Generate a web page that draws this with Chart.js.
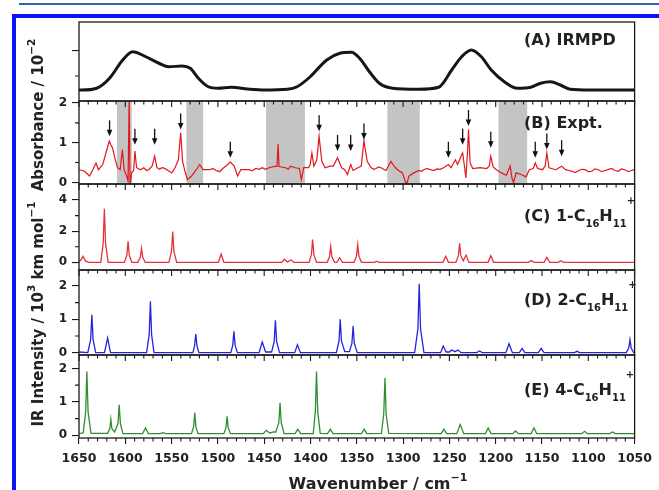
<!DOCTYPE html>
<html>
<head>
<meta charset="utf-8">
<script src="https://cdn.jsdelivr.net/npm/chart.js@4.4.1/dist/chart.umd.min.js"></script>
<style>
  html, body { margin: 0; padding: 0; background: #fff; }
  #wrap { position: relative; width: 659px; height: 490px; overflow: hidden; background: #fff; }
  .rule { position: absolute; left: 19px; top: 3px; width: 640px; height: 2px; background: #2a65b0; }
  .frame { position: absolute; left: 12px; top: 14px; width: 700px; height: 520px;
           border-left: 4.5px solid #0a14f2; border-top: 4.5px solid #0a14f2; }
  canvas { position: absolute; left: 0; top: 0; }
</style>
</head>
<body>
<div id="wrap">
  <div class="rule"></div>
  <div class="frame"></div>
  <canvas id="chart" width="659" height="490"></canvas>
</div>
<script>
// ── data (wavenumber / cm-1, intensity) ──────────────────────────────
const xTicks = [1650, 1600, 1550, 1500, 1450, 1400, 1350, 1300, 1250, 1200, 1150, 1100, 1050];
const xMinorStep = 10;

// (A) IRMPD, arbitrary units
const specA = [[1650,0.44],[1647,0.44],[1631,0.51],[1617,0.91],[1602.8,1.64],[1592,1.97],[1577.8,1.77],
  [1563.7,1.51],[1553,1.37],[1538.8,1.4],[1529.9,1.31],[1521,0.91],[1510.4,0.57],[1499.7,0.51],
  [1485.6,0.55],[1467.8,0.48],[1450,0.44],[1425,0.47],[1414.5,0.57],[1400.3,0.97],[1382.5,1.64],
  [1368.3,1.91],[1355.8,1.95],[1347,1.71],[1336.4,1.17],[1325.7,0.71],[1311.4,0.51],[1283,0.47],
  [1261.7,0.55],[1247.5,1.24],[1236.8,1.77],[1226.2,2.04],[1215.5,1.77],[1204.8,1.24],[1190.7,0.77],
  [1176.5,0.51],[1162.2,0.55],[1151.6,0.71],[1140.9,0.77],[1130.2,0.64],[1119.6,0.47],[1098.3,0.44],[1050,0.44]];

// (B) experiment, absorbance / 10^-2
const specB = [[1650,0.32],[1644,0.28],[1638.6,0.16],[1635.1,0.32],[1631.6,0.49],[1629,0.32],[1624.4,0.45],
  [1620.9,0.74],[1617.3,1.04],[1615.6,0.95],[1613.8,0.87],[1611.3,0.62],[1608.4,0.37],[1605.6,0.32],
  [1603.1,0.83],[1601.3,0.32],[1598.5,0.16],[1597,0.03],[1595.8,2.2],[1595.4,2.2],[1594.9,-0.1],
  [1593.2,0.24],[1591,0.3],[1589.6,0.79],[1587.8,0.37],[1583.6,0.32],[1580,0.37],[1577,0.3],[1574.7,0.32],
  [1571.1,0.41],[1568.3,0.66],[1565.8,0.37],[1563,0.33],[1560.5,0.37],[1558,0.36],[1555.1,0.32],[1549.8,0.24],[1546.3,0.37],
  [1542.7,0.57],[1540.2,1.25],[1538.1,0.53],[1535.6,0.28],[1532.8,0.07],[1528.5,0.16],[1523.2,0.32],
  [1519.7,0.45],[1516,0.32],[1509,0.32],[1505.5,0.35],[1501.9,0.3],[1498,0.27],[1494.7,0.35],[1489.4,0.45],[1486.6,0.51],
  [1482.4,0.41],[1478.8,0.16],[1475.2,0.32],[1466.4,0.32],[1463,0.29],[1459.2,0.35],[1455.5,0.33],[1452.1,0.37],
  [1448.5,0.33],[1444.6,0.37],
  [1437.6,0.41],[1436.2,0.4],[1435,0.97],[1434,0.4],[1426.9,0.37],[1424,0.33],[1421.6,0.41],[1416.3,0.37],
  [1412,0.35],[1409.9,0.07],[1407.3,0.37],[1402,0.37],[1400.3,0.45],[1398.5,0.74],[1396.4,0.41],
  [1393.2,0.57],[1390.7,1.16],[1387.8,0.53],[1384.3,0.37],[1378.9,0.41],[1375.4,0.41],[1370.8,0.62],
  [1366.5,0.37],[1363,0.32],[1360.1,0.2],[1356.6,0.45],[1354,0.3],[1348.7,0.37],[1345.2,0.41],
  [1342.3,1.05],[1338.8,0.53],[1334.5,0.37],[1331.5,0.33],[1329.2,0.35],[1326.5,0.39],[1323.9,0.37],[1321,0.33],
  [1318.5,0.3],[1313.2,0.53],
  [1309.7,0.41],[1306.1,0.32],[1300.8,0.24],[1298.3,0.07],[1296.2,-0.05],[1293.7,0.16],[1288.4,0.24],
  [1283,0.3],[1280,0.28],[1277.7,0.32],[1274,0.35],[1270.6,0.32],[1267,0.3],[1263.4,0.34],[1260,0.33],
  [1256.4,0.37],[1251.1,0.45],[1248.2,0.37],
  [1243.6,0.57],[1241.1,0.45],[1237.6,0.65],[1235.7,0.74],[1234,0.45],[1232.2,0.11],[1230.4,0.79],
  [1229.4,1.33],[1227.6,0.49],[1224.8,0.35],[1217,0.37],[1209.8,0.35],[1207,0.41],[1205.3,0.66],
  [1202.8,0.39],[1199.2,0.32],[1193.9,0.24],[1188.6,0.18],[1184.3,0.41],[1182.5,0.11],[1180.7,0],
  [1177.9,0.24],[1172.5,0.2],[1167.2,0.14],[1163.7,0.32],[1159.4,0.35],[1157.3,0.49],[1154.7,0.35],
  [1149.4,0.32],[1146.6,0.41],[1144.8,0.74],[1142.4,0.37],[1135.2,0.32],[1128.8,0.41],[1124.6,0.32],
  [1121,0.3],[1117.4,0.28],[1114,0.25],[1110.4,0.3],[1107,0.33],[1103.3,0.32],[1100,0.27],[1096.1,0.28],
  [1093,0.34],[1089.1,0.32],[1085.5,0.27],[1081.9,0.3],[1078,0.33],[1074.8,0.35],[1071,0.3],
  [1067.8,0.28],[1064,0.34],[1060.6,0.32],[1057,0.27],[1053.5,0.3],[1050,0.32]];

// (C) 1-C16H11+, 10^3 km/mol
const specC = [[1650,0.05],[1648.5,0.12],[1645.7,0.39],[1643,0.08],[1639,0],
  [1626.5,0],[1623.9,1.2],[1622.6,3.44],[1621.3,1.2],[1618.5,0],
  [1601,0],[1598.3,0.47],[1597,1.35],[1595.7,0.47],[1593,0],
  [1586.5,0],[1583.8,0.32],[1582.5,0.9],[1581.2,0.32],[1578.5,0],
  [1553,0],[1550.1,0.69],[1548.8,1.98],[1547.5,0.69],[1544.5,0],
  [1499.5,0],[1496.5,0.53],[1493.5,0],
  [1431,0],[1428.3,0.2],[1425,0.03],[1420.9,0.15],[1418,0],
  [1401.5,0],[1399,0.51],[1397.7,1.46],[1396.4,0.51],[1393.5,0],
  [1382,0],[1379.5,0.36],[1378.2,1.03],[1376.9,0.36],[1374,0],
  [1371.5,0],[1368.6,0.3],[1365.5,0],
  [1353,0],[1350.3,0.4],[1349,1.14],[1347.7,0.4],[1345,0],
  [1331,0],[1328.5,0.08],[1326,0],
  [1257,0],[1253.9,0.39],[1251,0],
  [1243,0],[1240.3,0.43],[1239,1.22],[1237.7,0.43],[1235,0.1],[1232,0.47],[1229,0],
  [1208.3,0],[1205.3,0.43],[1202.3,0],
  [1164.5,0],[1161.6,0.12],[1158.5,0],
  [1147.8,0],[1144.8,0.32],[1141.8,0],
  [1132.5,0],[1129.6,0.1],[1126.7,0],[1050,0]];

// (D) 2-C16H11+
const specD = [[1650,0.02],[1640.5,0],[1637.4,0.4],[1636.1,1.14],[1634.8,0.4],[1632,0],
  [1622.5,0],[1619.1,0.44],[1616,0],
  [1577,0],[1574.2,0.54],[1572.9,1.54],[1571.6,0.54],[1569,0],
  [1527,0],[1525.2,0.2],[1523.9,0.56],[1522.6,0.2],[1520.5,0],
  [1486,0],[1484,0.22],[1482.7,0.64],[1481.4,0.22],[1479,0],
  [1455.5,0],[1452.1,0.32],[1448.5,0.02],
  [1442,0.02],[1439.2,0.34],[1437.9,0.97],[1436.6,0.34],[1433.5,0],
  [1417,0],[1414.1,0.24],[1411,0],
  [1372,0],[1369.2,0.35],[1367.9,1.0],[1366.6,0.35],[1363,0.03],
  [1358,0.03],[1355.3,0.28],[1354,0.8],[1352.7,0.28],[1349.5,0],
  [1287.5,0],[1284,0.72],[1282.6,2.07],[1281.2,0.72],[1277.5,0],
  [1259.5,0],[1256.7,0.2],[1253.5,0.02],
  [1250,0.02],[1247.7,0.08],[1244,0.03],[1240.7,0.08],[1237.5,0],
  [1220.5,0],[1217.6,0.05],[1214.5,0],
  [1189,0],[1185.6,0.27],[1182,0],
  [1174.5,0],[1171.5,0.13],[1168.5,0],
  [1154,0],[1150.9,0.13],[1147.8,0],
  [1115,0],[1112.2,0.04],[1109.4,0],
  [1059,0],[1056.3,0.14],[1055,0.39],[1053.7,0.14],[1051,0],[1050,0]];

// (E) 4-C16H11+
const specE = [[1650,0.05],[1645.5,0.07],[1642.8,0.7],[1641.5,1.91],[1640.2,0.7],[1637,0.06],
  [1619,0.06],[1616.7,0.2],[1615.6,0.48],[1614.5,0.2],[1611.5,0.1],[1607.9,0.35],[1606.6,0.91],[1605.3,0.35],[1602.5,0.05],
  [1581.3,0.05],[1578.2,0.22],[1575.1,0.05],
  [1562.4,0.05],[1559.4,0.08],[1556.4,0.05],
  [1528.5,0.05],[1526.2,0.26],[1525,0.67],[1523.8,0.26],[1521.5,0.05],
  [1493.5,0.05],[1491.3,0.23],[1490.1,0.57],[1488.9,0.23],[1486.5,0.05],
  [1451,0.05],[1447.8,0.15],[1444,0.07],[1440,0.1],[1437.5,0.1],[1434.2,0.38],[1432.9,0.97],[1431.6,0.38],[1428.5,0.05],
  [1416.7,0.05],[1413.7,0.18],[1410.7,0.05],
  [1397,0.05],[1394.8,0.7],[1393.5,1.91],[1392.2,0.7],[1389.5,0.06],
  [1381.6,0.05],[1378.6,0.18],[1375.6,0.05],
  [1345,0.05],[1342,0.18],[1339,0.05],
  [1323.5,0.06],[1320.9,0.63],[1319.6,1.71],[1318.3,0.63],[1315.5,0.06],
  [1259,0.05],[1256,0.18],[1253,0.05],
  [1242,0.05],[1238.3,0.32],[1234.5,0.05],
  [1211.1,0.05],[1208.1,0.22],[1205.1,0.05],
  [1181.6,0.05],[1178.6,0.13],[1175.6,0.05],
  [1161.7,0.05],[1158.7,0.22],[1155.7,0.05],
  [1107,0.05],[1104,0.12],[1101,0.05],
  [1076.8,0.05],[1073.8,0.1],[1070.8,0.05],[1050,0.05]];

// grey bands in (B) and the arrowed bands
const shadedB = [[1609,1593],[1534,1516],[1448,1406],[1317,1282],[1197,1166]];
const arrowWn  = [1617,1589.6,1568.3,1540.2,1486.6,1390.7,1370.8,1356.6,1342.3,1251.1,1235.7,1229.4,1205.3,1157.3,1144.8,1128.8];
const arrowTip = [1.16,0.95,0.95,1.33,0.62,1.29,0.79,0.79,1.08,0.62,0.95,1.42,0.87,0.62,0.83,0.66];

// y ticks per panel
const yTicksA = [2],       yMinorA = [1];
const yTicksB = [0, 1, 2], yMinorB = [0.5, 1.5];
const yTicksC = [0, 2, 4], yMinorC = [1, 3];
const yTicksD = [0, 1, 2], yMinorD = [0.5, 1.5];
const yTicksE = [0, 1, 2], yMinorE = [0.5, 1.5];

// ── helpers ──────────────────────────
const FONT = '"DejaVu Sans", "Liberation Sans", sans-serif';
const INK = '#1a1a1a';
const toXY = arr => arr.map(([x, y]) => ({ x, y }));

// parts: [text, size, dy]
function richText(ctx, parts, x, y, align) {
  let w = 0;
  parts.forEach(p => { ctx.font = `bold ${p[1]}px ${FONT}`; w += ctx.measureText(p[0]).width; });
  let cx = align === 'center' ? x - w / 2 : x;
  parts.forEach(p => {
    ctx.font = `bold ${p[1]}px ${FONT}`;
    ctx.fillText(p[0], cx, y + p[2]);
    cx += ctx.measureText(p[0]).width;
  });
}

function molLabel(tag) {
  return [[tag + '-C', 16, 0], ['16', 10, 6], ['H', 16, 0], ['11', 10, 6], ['+', 10, -17]];
}

const panelLabels = [
  ['yA', [['(A) IRMPD', 16, 0]], 45],
  ['yB', [['(B) Expt.', 16, 0]], 128],
  ['yC', [['(C) ', 16, 0]].concat(molLabel('1')), 221],
  ['yD', [['(D) ', 16, 0]].concat(molLabel('2')), 304.5],
  ['yE', [['(E) ', 16, 0]].concat(molLabel('4')), 395]
];

const panelPlugin = {
  id: 'panels',
  beforeDatasetsDraw(chart) {
    const { ctx, scales } = chart;
    const xs = scales.x, yB = scales.yB;
    ctx.save();
    ctx.fillStyle = '#c4c4c4';
    shadedB.forEach(([a, b]) => {
      const x1 = xs.getPixelForValue(a), x2 = xs.getPixelForValue(b);
      ctx.fillRect(Math.min(x1, x2), yB.top, Math.abs(x2 - x1), yB.bottom - yB.top);
    });
    ctx.restore();
  },
  afterDatasetsDraw(chart) {
    const { ctx, chartArea: ca, scales } = chart;
    const xs = scales.x;
    const ids = ['yA', 'yB', 'yC', 'yD', 'yE'];
    ctx.save();

    // panel frames
    ctx.strokeStyle = INK;
    ctx.lineWidth = 1.3;
    ids.forEach(id => {
      const s = scales[id];
      ctx.strokeRect(ca.left, s.top, ca.right - ca.left, s.bottom - s.top);
    });

    // x ticks: inward at top of panels B-E, minor outward at bottom
    ctx.lineWidth = 1.1;
    ctx.beginPath();
    for (let v = xTicks[xTicks.length - 1]; v <= xTicks[0]; v += xMinorStep) {
      const px = xs.getPixelForValue(v);
      const major = xTicks.includes(v);
      ids.slice(1).forEach(id => {
        ctx.moveTo(px, scales[id].top);
        ctx.lineTo(px, scales[id].top + (major ? 6 : 3.5));
      });
      if (!major) { ctx.moveTo(px, ca.bottom); ctx.lineTo(px, ca.bottom + 3.5); }
    }
    // minor y ticks
    [['yA', yMinorA], ['yB', yMinorB], ['yC', yMinorC], ['yD', yMinorD], ['yE', yMinorE]].forEach(([id, vals]) => {
      vals.forEach(v => {
        const py = scales[id].getPixelForValue(v);
        ctx.moveTo(ca.left, py);
        ctx.lineTo(ca.left - 4, py);
      });
    });
    ctx.stroke();

    // arrows in (B)
    ctx.fillStyle = '#111';
    ctx.strokeStyle = '#111';
    ctx.lineWidth = 1.3;
    arrowWn.forEach((wn, i) => {
      const px = xs.getPixelForValue(wn);
      const tip = scales.yB.getPixelForValue(arrowTip[i]);
      ctx.beginPath();
      ctx.moveTo(px, tip - 16);
      ctx.lineTo(px, tip - 5);
      ctx.stroke();
      ctx.beginPath();
      ctx.moveTo(px - 2.8, tip - 6.5);
      ctx.lineTo(px + 2.8, tip - 6.5);
      ctx.lineTo(px, tip);
      ctx.closePath();
      ctx.fill();
    });

    // panel labels
    ctx.fillStyle = '#222';
    ctx.textAlign = 'left';
    ctx.textBaseline = 'alphabetic';
    panelLabels.forEach(([id, parts, y]) => richText(ctx, parts, 524, y, 'left'));

    // axis titles
    richText(ctx, [['Wavenumber / cm', 16, 0], ['\u22121', 11, -8]], 378, 489, 'center');
    ctx.save();
    ctx.translate(43, 115);
    ctx.rotate(-Math.PI / 2);
    richText(ctx, [['Absorbance / 10', 15, 0], ['\u22122', 10.5, -8]], 0, 0, 'center');
    ctx.restore();
    ctx.save();
    ctx.translate(43, 314);
    ctx.rotate(-Math.PI / 2);
    richText(ctx, [['IR Intensity / 10', 15, 0], ['3', 10.5, -8], [' km mol', 15, 0], ['\u22121', 10.5, -8]], 0, 0, 'center');
    ctx.restore();

    ctx.restore();
  }
};

// ── scales ──────────────────────────
function yScale(min, max, ticks, weight, showLabels) {
  return {
    type: 'linear',
    position: 'left',
    stack: 'spectra',
    stackWeight: weight,
    min: min,
    max: max,
    afterBuildTicks: s => { s.ticks = ticks.map(v => ({ value: v })); },
    afterFit: s => { s.width = 79; },
    border: { display: false },
    grid: { drawOnChartArea: false, drawTicks: true, tickLength: 7, color: INK, lineWidth: 1.1 },
    ticks: {
      padding: 5,
      color: '#222',
      font: { family: FONT, size: 12, weight: 'bold' },
      callback: v => showLabels ? String(v) : ''
    }
  };
}

const lineDs = (data, axis, color, width) => ({
  data: toXY(data),
  yAxisID: axis,
  borderColor: color,
  borderWidth: width,
  pointRadius: 0,
  tension: 0,
  clip: 0
});

const datasets = [
  Object.assign(lineDs(specA, 'yA', '#161616', 3), { tension: 0.4, cubicInterpolationMode: 'monotone' }),
  lineDs(specB, 'yB', '#e3161f', 1.2),
  lineDs(specC, 'yC', '#e3323b', 1.3),
  lineDs(specD, 'yD', '#2424dc', 1.3),
  lineDs(specE, 'yE', '#2f8f2f', 1.3)
];

new Chart(document.getElementById('chart').getContext('2d'), {
  type: 'line',
  data: { datasets },
  options: {
    responsive: false,
    animation: false,
    layout: { padding: { top: 22, right: 17, left: 0, bottom: 0 } },
    plugins: { legend: { display: false }, tooltip: { enabled: false } },
    scales: {
      x: {
        type: 'linear',
        position: 'bottom',
        reverse: true,
        min: 1050,
        max: 1650,
        afterBuildTicks: s => { s.ticks = xTicks.map(v => ({ value: v })); },
        afterFit: s => { s.height = 52; },
        border: { display: false },
        grid: { drawOnChartArea: false, drawTicks: true, tickLength: 6, color: INK, lineWidth: 1.1 },
        ticks: {
          padding: 7,
          maxRotation: 0,
          autoSkip: false,
          color: '#222',
          font: { family: FONT, size: 12.5, weight: 'bold' },
          callback: v => String(v)
        }
      },
      // last defined sits on top of the stack
      yE: yScale(-0.08, 2.4, yTicksE, 83, true),
      yD: yScale(-0.07, 2.48, yTicksD, 85, true),
      yC: yScale(-0.49, 5.03, yTicksC, 86, true),
      yB: yScale(-0.04, 2.05, yTicksB, 83, true),
      yA: yScale(0, 3.16, yTicksA, 79, false)
    }
  },
  plugins: [panelPlugin]
});
</script>
</body>
</html>
